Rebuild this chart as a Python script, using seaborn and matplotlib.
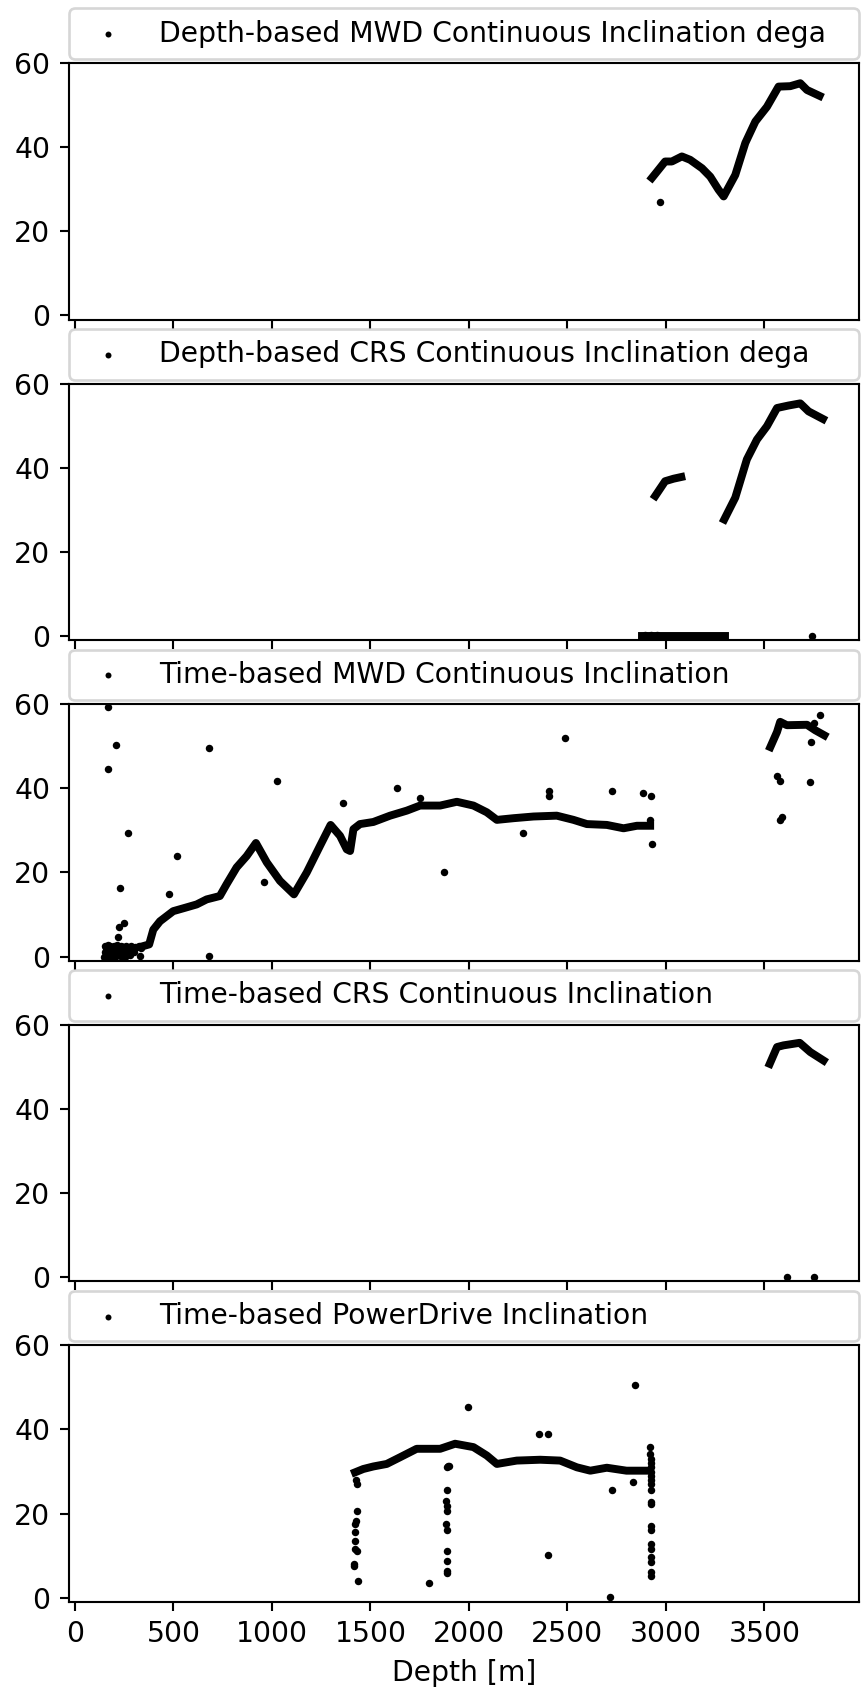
import matplotlib
matplotlib.use("Agg")
import matplotlib.pyplot as plt
import seaborn as sns

plt.rcParams["font.size"] = 10.7

# ---------------- data ----------------
labels = [
    "Depth-based MWD Continuous Inclination dega",
    "Depth-based CRS Continuous Inclination dega",
    "Time-based MWD Continuous Inclination",
    "Time-based CRS Continuous Inclination",
    "Time-based PowerDrive Inclination",
]

# Panel 1: Depth-based MWD
p1_curve_depth = [2929, 2996, 3030, 3081, 3123, 3183, 3225, 3267, 3293, 3352,
                  3403, 3454, 3513, 3572, 3631, 3682, 3716, 3780]
p1_curve_inc = [32.7, 36.6, 36.6, 37.8, 37.0, 35.0, 33.0, 29.9, 28.3, 33.4,
                41.0, 46.1, 49.6, 54.4, 54.5, 55.2, 53.6, 52.2]
p1_pts_depth = [2968]
p1_pts_inc = [26.9]

# Panel 2: Depth-based CRS
p2_seg1_depth = [2946, 2996, 3039, 3078]
p2_seg1_inc = [33.3, 36.8, 37.4, 37.8]
p2_seg2_depth = [3296, 3352, 3411, 3462, 3513, 3564, 3623, 3682, 3724, 3797]
p2_seg2_inc = [27.7, 32.9, 42.0, 46.7, 49.9, 54.2, 54.8, 55.3, 53.4, 51.6]
p2_zero_depth = [2878, 3301]
p2_zero_inc = [0.0, 0.0]
p2_pts_depth = [2880, 2895, 2910, 2925, 2940, 2955, 3741]
p2_pts_inc = [0.0, 0.3, 0.0, 0.3, 0.0, 0.2, 0.0]

# Panel 3: Time-based MWD
p3_curve_depth = [347, 377, 398, 432, 499, 559, 618, 669, 736, 770,
                  821, 872, 919, 974, 1041, 1112, 1177, 1244, 1298, 1346,
                  1380, 1397, 1414, 1447, 1515, 1600, 1685, 1752, 1854, 1939,
                  2023, 2091, 2142, 2227, 2328, 2446, 2531, 2599, 2700, 2785,
                  2853, 2920]
p3_curve_inc = [2.5, 2.9, 6.4, 8.4, 10.8, 11.6, 12.4, 13.6, 14.4, 17.2,
                21.2, 23.9, 27.0, 22.4, 18.0, 14.8, 20.0, 26.3, 31.3, 28.7,
                25.5, 25.1, 30.3, 31.5, 32.0, 33.5, 34.7, 35.9, 35.9, 36.8,
                35.9, 34.3, 32.5, 32.9, 33.3, 33.5, 32.5, 31.5, 31.3, 30.5,
                31.1, 31.1]
p3_curve2_depth = [3530, 3564, 3580, 3614, 3716, 3758, 3804]
p3_curve2_inc = [49.8, 53.4, 55.8, 55.0, 55.1, 53.8, 52.6]
p3_pts_depth = [150, 158, 165, 172, 180, 188, 195, 203, 210, 218, 225, 233,
                240, 248, 256, 265, 275, 285, 295, 305, 315, 325, 335,
                155, 162, 175, 185, 192, 200, 212, 222, 236, 244, 252, 262,
                160, 190, 215, 245, 270, 300, 152, 170, 198, 228, 258, 280,
                169, 208, 166, 268, 229, 249, 225, 220, 516, 477, 679, 679,
                1027, 960, 1363, 330, 1633, 1752, 1876, 2276, 2407, 2407,
                2490, 2726, 2883, 2925, 2929, 2920,
                3784, 3750, 3736, 3733, 3564, 3580, 3589, 3580]
p3_pts_inc = [0.0, 2.0, 1.0, 0.0, 2.5, 0.5, 1.5, 0.0, 2.0, 0.5, 1.0, 2.5,
              0.0, 1.5, 0.5, 2.0, 1.0, 2.5, 1.8, 2.2, 2.4, 2.6, 2.0,
              1.0, 0.0, 1.8, 1.2, 0.2, 2.2, 1.0, 1.6, 0.2, 2.4, 0.0, 1.2,
              0.8, 1.2, 2.8, 2.2, 0.6, 1.0, 2.6, 2.8, 2.6, 0.4, 2.6, 0.3,
              59.3, 50.4, 44.6, 29.3, 16.2, 7.9, 7.1, 4.7, 23.9, 15.0, 49.6, 0.1,
              41.8, 17.8, 36.5, 0.2, 40.0, 37.6, 20.0, 29.3, 39.4, 38.2,
              52.0, 39.4, 39.0, 38.1, 26.7, 32.5,
              57.5, 55.6, 51.1, 41.5, 42.9, 41.8, 33.1, 32.5]

# Panel 4: Time-based CRS
p4_curve_depth = [3527, 3564, 3597, 3679, 3733, 3800]
p4_curve_inc = [50.7, 54.7, 55.1, 55.7, 53.5, 51.5]
p4_pts_depth = [3614, 3750]
p4_pts_inc = [0.0, 0.0]

# Panel 5: Time-based PowerDrive
p5_curve_depth = [1422, 1464, 1515, 1583, 1651, 1735, 1854, 1930, 2023, 2091,
                  2142, 2243, 2362, 2463, 2548, 2616, 2700, 2800, 2914]
p5_curve_inc = [29.8, 30.6, 31.2, 31.8, 33.4, 35.4, 35.4, 36.6, 35.8, 33.8,
                31.8, 32.6, 32.8, 32.6, 31.0, 30.2, 30.9, 30.2, 30.2]
p5_pts_depth = [1428, 1432, 1432, 1425, 1420, 1420, 1423, 1421, 1430, 1418, 1415, 1436,
                1887, 1893, 1900, 1887, 1886, 1888, 1887, 1885, 1887, 1888, 1888, 1888, 1888,
                1796, 1996, 2358, 2404, 2404, 2717, 2727, 2835, 2844,
                2920, 2918, 2925, 2925, 2925, 2925, 2925, 2925, 2925, 2925, 2925, 2925, 2925, 2925,
                2922, 2922, 2922, 2922, 2922, 2922]
p5_pts_inc = [27.9, 27.1, 20.5, 18.3, 17.5, 15.6, 13.6, 11.6, 11.2, 8.0, 7.6, 4.0,
              31.0, 31.4, 31.2, 25.6, 23.1, 21.9, 20.7, 17.5, 16.0, 11.2, 8.8, 6.4, 5.8,
              3.4, 45.3, 39.0, 39.0, 10.2, 0.1, 25.6, 27.5, 50.5,
              35.8, 34.2, 27.1, 25.5, 22.3, 22.7, 17.1, 16.0, 12.8, 11.6, 9.6, 8.4, 6.0, 5.2,
              28.0, 29.0, 30.0, 31.0, 32.0, 33.0]

x_ticks = [0, 500, 1000, 1500, 2000, 2500, 3000, 3500]
y_ticks = [0, 20, 40, 60]

panels = [
    ([(p1_curve_depth, p1_curve_inc)], (p1_pts_depth, p1_pts_inc)),
    ([(p2_seg1_depth, p2_seg1_inc), (p2_seg2_depth, p2_seg2_inc),
      (p2_zero_depth, p2_zero_inc)], (p2_pts_depth, p2_pts_inc)),
    ([(p3_curve_depth, p3_curve_inc), (p3_curve2_depth, p3_curve2_inc)],
     (p3_pts_depth, p3_pts_inc)),
    ([(p4_curve_depth, p4_curve_inc)], (p4_pts_depth, p4_pts_inc)),
    ([(p5_curve_depth, p5_curve_inc)], (p5_pts_depth, p5_pts_inc)),
]

# ---------------- figure ----------------
DPI = 190
fig, axes = plt.subplots(5, 1, figsize=(862 / DPI, 1690 / DPI), dpi=DPI, sharex=True)
fig.subplots_adjust(left=0.080, right=0.9965, top=0.9627, bottom=0.0521, hspace=0.249)

for ax, label, (curves, pts) in zip(axes, labels, panels):
    for cx, cy in curves:
        sns.lineplot(x=cx, y=cy, ax=ax, color="black", linewidth=3.0,
                     sort=False, estimator=None)
    sns.scatterplot(x=pts[0], y=pts[1], ax=ax, color="black", s=8,
                    linewidth=0, label=label)
    ax.set_xlim(-30, 3980)
    ax.set_ylim(-1, 60)
    ax.set_yticks(y_ticks)
    ax.set_xticks(x_ticks)
    ax.set_ylabel("")
    ax.legend(loc="lower left", bbox_to_anchor=(0, 1.0156, 1, 0.2),
              mode="expand", borderaxespad=0, fontsize=10.7, markerscale=0.8)

axes[-1].set_xlabel("Depth [m]")

fig.savefig("out.png", dpi=DPI)
